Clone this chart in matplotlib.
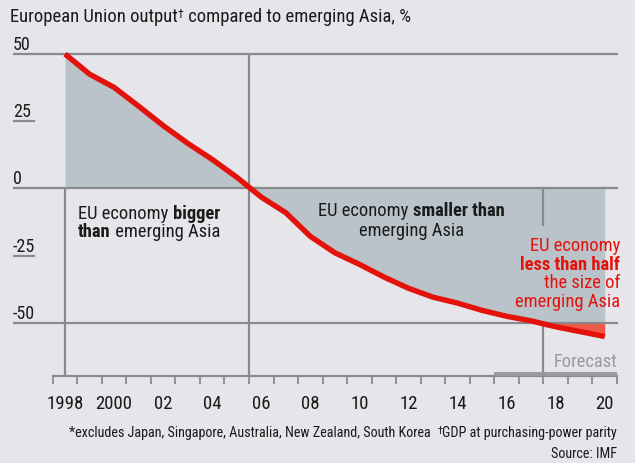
import numpy as np
import matplotlib
matplotlib.use("Agg")
import matplotlib.pyplot as plt
import matplotlib.transforms as mtransforms

# EU output compared to emerging Asia, % (mid-year points)
years = [1998.5, 1999.5, 2000.5, 2001.5, 2002.5, 2003.5, 2004.5, 2005.5,
         2006.5, 2007.5, 2008.5, 2009.5, 2010.5, 2011.5, 2012.5, 2013.5,
         2014.5, 2015.5, 2016.5, 2017.5, 2018.5, 2019.5, 2020.5]
values = [50.0, 42.5, 37.6, 30.6, 23.4, 16.8, 10.8, 4.2,
          -3.2, -9.0, -17.8, -23.9, -28.2, -32.9, -37.1, -40.4,
          -42.6, -45.3, -47.5, -49.2, -51.4, -53.2, -55.0]

tick_years = list(range(1998, 2022))
label_years = [1998.5, 2000.5, 2002.5, 2004.5, 2006.5, 2008.5, 2010.5,
               2012.5, 2014.5, 2016.5, 2018.5, 2020.5]
label_text = ["1998", "2000", "02", "04", "06", "08", "10", "12", "14",
              "16", "18", "20"]
grid_major = [50, 0, -50]
grid_minor = [25, -25]
ylabels = {50: "50", 25: "25", 0: "0", -25: "-25", -50: "-50"}

bg = "#e5e5ea"
fill_grey = "#bac3c9"
red = "#e3120b"
red_fill = "#ef5a48"
grid_col = "#8a8a8e"
ink = "#1a1a1a"
font = ["Roboto Condensed", "Lato", "DejaVu Sans"]

plt.rcParams["font.family"] = font

fig = plt.figure(figsize=(6.35, 4.63), dpi=100, facecolor=bg)
ax = fig.add_axes([13 / 635, (463 - 376) / 463, 605 / 635, (376 - 35) / 463])
ax.set_facecolor(bg)
ax.set_xlim(1996.38, 2021.04)
ax.set_ylim(-69.7, 57.06)

x = np.array(years)
y = np.array(values)

# shaded areas
ax.fill_between(x, np.maximum(y, -50), 0, color=fill_grey, lw=0, zorder=1)
ax.fill_between(x, y, -50, where=y < -50, interpolate=True,
                color=red_fill, lw=0, zorder=1)

# gridlines
for g in grid_major:
    ax.axhline(g, color=grid_col, lw=1.6, zorder=2)
for g in grid_minor:
    ax.plot([0, 0.035], [g, g], transform=ax.get_yaxis_transform(),
            color=grid_col, lw=1.6, zorder=2)
for v, s in ylabels.items():
    ax.text(0, v, s, transform=ax.get_yaxis_transform(), ha="left",
            va="bottom", fontsize=13, color=ink)

# vertical markers
ax.vlines(1998.5, -69.7, 0, color=grid_col, lw=1.6, zorder=2)
ax.vlines(2006, -69.7, 50, color=grid_col, lw=1.6, zorder=2)
ax.vlines(2018, -14, 0, color=grid_col, lw=1.6, zorder=2)
ax.vlines(2018, -69.7, -50, color=grid_col, lw=1.6, zorder=2)

# the series
ax.plot(x, y, color=red, lw=3.9, solid_capstyle="butt",
        solid_joinstyle="round", zorder=4)

# axis
for s in ["top", "right", "left"]:
    ax.spines[s].set_visible(False)
ax.spines["bottom"].set_bounds(1998, 2021)
ax.spines["bottom"].set_color(grid_col)
ax.spines["bottom"].set_linewidth(1.6)
ax.set_yticks([])
ax.set_xticks(tick_years)
ax.set_xticklabels([])
ax.set_xticks(label_years, minor=True)
ax.set_xticklabels(label_text, minor=True, fontsize=13.5, color=ink)
ax.tick_params(axis="x", which="major", direction="out", length=6,
               width=1.3, color=grid_col)
ax.tick_params(axis="x", which="minor", length=0, pad=14)

# forecast band
ax.plot([2016, 2021], [-69.1, -69.1], color="#9a9a9e", lw=2.8,
        solid_capstyle="butt", clip_on=False, zorder=3)
ax.text(2021, -66.4, "Forecast", ha="right", va="baseline",
        fontsize=13.3, color="#9a9a9e")

# text with mixed weights / sizes
renderer = fig.canvas.get_renderer()


def text_width(s, weight, size):
    t1 = fig.text(0, 0, "x" + s + "x", fontsize=size, weight=weight)
    t2 = fig.text(0, 0, "xx", fontsize=size, weight=weight)
    w = t1.get_window_extent(renderer).width - t2.get_window_extent(renderer).width
    t1.remove()
    t2.remove()
    return w


def rich_line(xv, yv, parts, ha="left", color=ink, size=13.3, base=None):
    # parts: (text, weight) or (text, weight, size, raise_px)
    if base is None:
        base = ax.transData
    parts = [p if len(p) == 4 else (p[0], p[1], size, 0) for p in parts]
    widths = [text_width(s, w, sz) for s, w, sz, _ in parts]
    total = sum(widths)
    off = {"left": 0, "center": -total / 2, "right": -total}[ha]
    for (s, w, sz, dy), wd in zip(parts, widths):
        tr = mtransforms.offset_copy(base, fig=fig, x=off, y=dy, units="dots")
        fig.text(xv, yv, s, transform=tr, ha="left", va="baseline",
                 fontsize=sz, weight=w, color=color, zorder=5)
        off += wd


rich_line(2001.93, -11.3, [("EU economy ", "normal"), ("bigger", "bold")],
          ha="center")
rich_line(2001.93, -18.0, [("than", "bold"), (" emerging Asia", "normal")],
          ha="center")
rich_line(2012.62, -10.1, [("EU economy ", "normal"), ("smaller than", "bold")],
          ha="center")
rich_line(2012.62, -17.6, [("emerging Asia", "normal")], ha="center")

rich_line(2021.13, -23.2, [("EU economy", "normal")], ha="right", color=red)
rich_line(2021.13, -30.2, [("less than half", "bold")], ha="right", color=red)
rich_line(2021.13, -37.1, [("the size of", "normal")], ha="right", color=red)
rich_line(2021.13, -44.1, [("emerging Asia", "normal")], ha="right", color=red)

# title and notes
rich_line(10 / 635, 1 - 22 / 463,
          [("European Union output", "normal", 13.4, 0),
           ("\u2020", "normal", 8.5, 4),
           (" compared to emerging Asia, %", "normal", 13.4, 0)],
          base=fig.transFigure)
rich_line(617 / 635, 1 - 437 / 463,
          [("*excludes Japan, Singapore, Australia, New Zealand, South Korea  ",
            "normal", 10.2, 0),
           ("\u2020", "normal", 7.5, 3),
           ("GDP at purchasing-power parity", "normal", 10.2, 0)],
          ha="right", base=fig.transFigure)
fig.text(617 / 635, 1 - 458 / 463, "Source: IMF", ha="right", va="baseline",
         fontsize=10.2, color=ink)

fig.savefig("out.png", dpi=100, facecolor=bg)
